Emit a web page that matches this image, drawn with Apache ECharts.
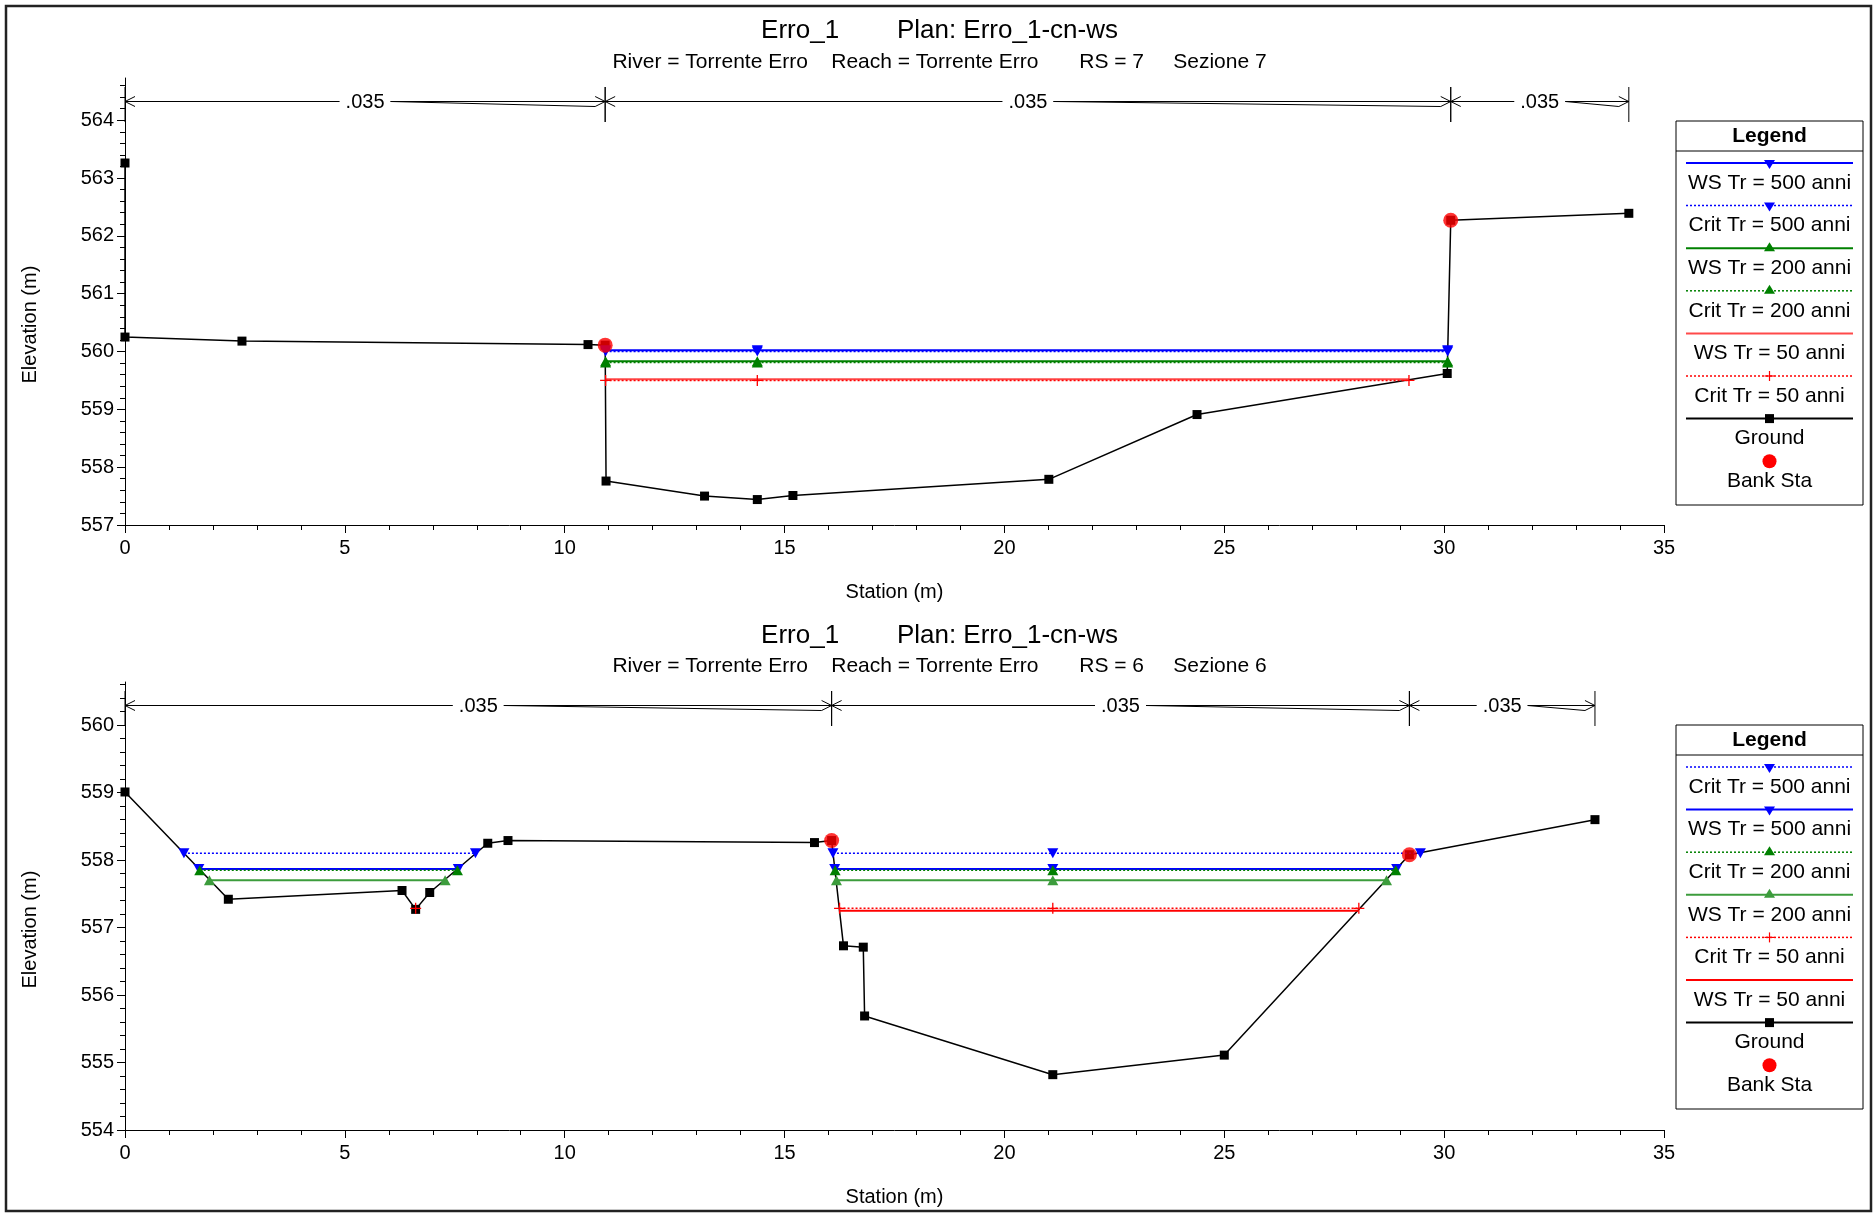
<!DOCTYPE html>
<html>
<head>
<meta charset="utf-8">
<script src="https://cdn.jsdelivr.net/npm/echarts@6/dist/echarts.min.js"></script>
<style>html,body{margin:0;padding:0;background:#fff}#c{width:1874px;height:1214px}</style>
</head>
<body>
<div id="c"></div>
<script>
const FONT = '"Liberation Sans", Arial, sans-serif';

// ---------------- texts ----------------
const titleText = 'Erro_1        Plan: Erro_1-cn-ws';
const rs7Subtitle = 'River = Torrente Erro    Reach = Torrente Erro       RS = 7     Sezione 7';
const rs6Subtitle = 'River = Torrente Erro    Reach = Torrente Erro       RS = 6     Sezione 6';
const xAxisName = 'Station (m)';
const yAxisName = 'Elevation (m)';

// ---------------- tick labels ----------------
const stationTicks = [0, 5, 10, 15, 20, 25, 30, 35];
const rs7ElevTicks = [557, 558, 559, 560, 561, 562, 563, 564];
const rs6ElevTicks = [554, 555, 556, 557, 558, 559, 560];
const rs7ElevRange = [557, 564.73];
const rs6ElevRange = [554, 560.64];

// ---------------- RS 7 (Sezione 7) ----------------
const rs7GroundSta  = [0, 0, 2.66, 10.53, 10.92, 10.94, 13.18, 14.38, 15.19, 21.01, 24.38, 30.07, 30.15, 34.2];
const rs7GroundElev = [563.26, 560.25, 560.18, 560.12, 560.11, 557.76, 557.50, 557.44, 557.51, 557.79, 558.91, 559.62, 562.27, 562.39];
const rs7BankSta  = [10.92, 30.15];
const rs7BankElev = [560.11, 562.27];
const rs7Ws500Sta = [[10.93, 14.38, 30.08]];   const rs7Ws500Elev = 560.02;
const rs7Crit500Sta = [[10.93, 14.38, 30.08]]; const rs7Crit500Elev = 560.00;
const rs7Ws200Sta = [[10.93, 14.38, 30.08]];   const rs7Ws200Elev = 559.83;
const rs7Crit200Sta = [[10.93, 14.38, 30.08]]; const rs7Crit200Elev = 559.81;
const rs7Ws50Sta = [[10.93, 14.38, 29.2]];     const rs7Ws50Elev = 559.52;
const rs7Crit50Sta = [[10.93, 14.38, 29.2]];   const rs7Crit50Elev = 559.50;
const rs7NBounds = [0, 10.92, 30.15, 34.2];
const rs7NValues = ['.035', '.035', '.035'];

// ---------------- RS 6 (Sezione 6) ----------------
const rs6GroundSta  = [0, 2.35, 6.30, 6.61, 6.93, 8.25, 8.71, 15.68, 16.07, 16.34, 16.79, 16.82, 21.1, 25.0, 29.21, 33.43];
const rs6GroundElev = [559.01, 557.42, 557.55, 557.27, 557.52, 558.25, 558.29, 558.26, 558.29, 556.73, 556.71, 555.69, 554.82, 555.11, 558.08, 558.60];
const rs6BankSta  = [16.07, 29.21];
const rs6BankElev = [558.29, 558.08];
const rs6Crit500Sta = [[1.34, 7.97], [16.10, 21.1, 29.46]]; const rs6Crit500Elev = 558.10;
const rs6Ws500Sta = [[1.68, 7.58], [16.14, 21.1, 28.92]];   const rs6Ws500Elev = 557.87;
const rs6Crit200Sta = [[1.70, 7.56], [16.15, 21.1, 28.90]]; const rs6Crit200Elev = 557.85;
const rs6Ws200Sta = [[1.92, 7.28], [16.18, 21.1, 28.69]];   const rs6Ws200Elev = 557.70;
const rs6Crit50Sta = [[6.61], [16.25, 21.1, 28.06]];        const rs6Crit50Elev = 557.285;
const rs6Ws50Sta = [[16.26, 21.1, 28.04]];                  const rs6Ws50Elev = 557.25;
const rs6NBounds = [0, 16.07, 29.21, 33.43];
const rs6NValues = ['.035', '.035', '.035'];

// ---------------- styles ----------------
const PLUS = 'path://M4.4,0h1.2v10h-1.2zM0,4.4h10v1.2h-10z';
const legendLabels = {
  ws500: 'WS Tr = 500 anni', crit500: 'Crit Tr = 500 anni',
  ws200: 'WS Tr = 200 anni', crit200: 'Crit Tr = 200 anni',
  ws50: 'WS Tr = 50 anni', crit50: 'Crit Tr = 50 anni',
  ground: 'Ground', bank: 'Bank Sta'
};
function sty(color, dotted, marker) { return { color, dotted, marker }; }
const rs7Styles = {
  ws500: sty('#0000ff', false, 'down'), crit500: sty('#0000ff', true, 'down'),
  ws200: sty('#008000', false, 'up'),   crit200: sty('#008000', true, 'up'),
  ws50: sty('#ff4a4a', false, 'none'),  crit50: sty('#ff0000', true, 'plus'),
  ground: sty('#000000', false, 'square'), bank: sty('#ff0000', false, 'circle')
};
const rs6Styles = {
  ws500: sty('#0000ff', false, 'down'), crit500: sty('#0000ff', true, 'down'),
  ws200: sty('#3c9c3c', false, 'up'),   crit200: sty('#008000', true, 'up'),
  ws50: sty('#ff0000', false, 'none'),  crit50: sty('#ff0000', true, 'plus'),
  ground: sty('#000000', false, 'square'), bank: sty('#ff0000', false, 'circle')
};
const rs7LegendOrder = ['ws500', 'crit500', 'ws200', 'crit200', 'ws50', 'crit50', 'ground', 'bank'];
const rs6LegendOrder = ['crit500', 'ws500', 'crit200', 'ws200', 'crit50', 'ws50', 'ground', 'bank'];

const sections = [
  {
    subtitle: rs7Subtitle, ticks: rs7ElevTicks, range: rs7ElevRange,
    ground: [rs7GroundSta, rs7GroundElev], bank: [rs7BankSta, rs7BankElev],
    water: [
      ['ws500', rs7Ws500Sta, rs7Ws500Elev], ['crit500', rs7Crit500Sta, rs7Crit500Elev],
      ['ws200', rs7Ws200Sta, rs7Ws200Elev], ['crit200', rs7Crit200Sta, rs7Crit200Elev],
      ['ws50', rs7Ws50Sta, rs7Ws50Elev], ['crit50', rs7Crit50Sta, rs7Crit50Elev]
    ],
    nBounds: rs7NBounds, nValues: rs7NValues, styles: rs7Styles, legend: rs7LegendOrder
  },
  {
    subtitle: rs6Subtitle, ticks: rs6ElevTicks, range: rs6ElevRange,
    ground: [rs6GroundSta, rs6GroundElev], bank: [rs6BankSta, rs6BankElev],
    water: [
      ['crit500', rs6Crit500Sta, rs6Crit500Elev], ['ws500', rs6Ws500Sta, rs6Ws500Elev],
      ['crit200', rs6Crit200Sta, rs6Crit200Elev], ['ws200', rs6Ws200Sta, rs6Ws200Elev],
      ['crit50', rs6Crit50Sta, rs6Crit50Elev], ['ws50', rs6Ws50Sta, rs6Ws50Elev]
    ],
    nBounds: rs6NBounds, nValues: rs6NValues, styles: rs6Styles, legend: rs6LegendOrder
  }
];

// ---------------- layout ----------------
const GRIDS = [
  { left: 125, top: 78, width: 1539, height: 447 },
  { left: 125, top: 682, width: 1539, height: 448 }
];
const TITLE_Y = [31, 636];
const SUB_Y = [62, 666];
const LEGEND_TOP = [121, 725];
const LEGEND_X = 1676, LEGEND_W = 187, LEGEND_H = 384;

function minorTicks(major, max) {
  const out = [];
  major.forEach(t => { for (let k = 1; k < 5; k++) { const v = +(t + 0.2 * k).toFixed(2); if (v < max) out.push(v); } });
  return out;
}
function symbolOf(marker) {
  if (marker === 'down') return { symbol: 'triangle', symbolSize: [11, 10], symbolRotate: 180 };
  if (marker === 'up') return { symbol: 'triangle', symbolSize: [11, 10], symbolRotate: 0 };
  if (marker === 'plus') return { symbol: PLUS, symbolSize: 11, symbolRotate: 0 };
  return { symbol: 'none', symbolSize: 0, symbolRotate: 0 };
}

const xAxes = [], yAxes = [], yMinorAxes = [], series = [];
sections.forEach((s, g) => {
  xAxes.push({
    gridIndex: g, type: 'value', min: 0, max: 35, interval: 5,
    axisLine: { show: true, onZero: false, lineStyle: { color: '#000', width: 1 } },
    axisTick: { show: true, inside: false, length: 8, lineStyle: { color: '#000' } },
    minorTick: { show: true, splitNumber: 5, length: 5, lineStyle: { color: '#000' } },
    axisLabel: { color: '#000', fontSize: 20, fontFamily: FONT, margin: 13 },
    splitLine: { show: false }, minorSplitLine: { show: false }
  });
  yAxes.push({
    gridIndex: g, type: 'value', min: s.range[0], max: s.range[1], position: 'left',
    axisLine: { show: true, onZero: false, lineStyle: { color: '#000', width: 1 } },
    axisTick: { show: true, inside: false, length: 8, customValues: s.ticks, lineStyle: { color: '#000' } },
    axisLabel: { customValues: s.ticks, color: '#000', fontSize: 20, fontFamily: FONT, margin: 11, padding: [3, 0, 0, 0] },
    splitLine: { show: false }
  });
  yMinorAxes.push({
    gridIndex: g, type: 'value', min: s.range[0], max: s.range[1], position: 'left', offset: 0,
    axisLine: { show: false },
    axisTick: { show: true, inside: false, length: 5, customValues: minorTicks(s.ticks, s.range[1]), lineStyle: { color: '#000' } },
    axisLabel: { show: false }, splitLine: { show: false }
  });

  // Manning's n brackets
  series.push({
    type: 'custom', xAxisIndex: g, yAxisIndex: g, clip: false, silent: true, z: 2,
    data: s.nValues.map((v, i) => [s.nBounds[i], s.nBounds[i + 1], s.range[1]]),
    encode: { x: [0, 1], y: 2 },
    renderItem: function (params, api) {
      const cs = params.coordSys;
      const x0 = api.coord([api.value(0), api.value(2)])[0];
      const x1 = api.coord([api.value(1), api.value(2)])[0];
      const yb = cs.y + 23.5, yt = cs.y + 9, ybot = cs.y + 44;
      const xm = (x0 + x1) / 2, hg = 25.5;
      const st = { stroke: '#000', lineWidth: 1, fill: null };
      return {
        type: 'group',
        children: [
          { type: 'line', shape: { x1: x0, y1: yt, x2: x0, y2: ybot }, style: st },
          { type: 'line', shape: { x1: x1, y1: yt, x2: x1, y2: ybot }, style: st },
          { type: 'line', shape: { x1: x0, y1: yb, x2: xm - hg, y2: yb }, style: st },
          { type: 'line', shape: { x1: xm + hg, y1: yb, x2: x1, y2: yb }, style: st },
          { type: 'line', shape: { x1: xm + hg, y1: yb, x2: x1 - 10, y2: yb + 5 }, style: st },
          { type: 'polyline', shape: { points: [[x0 + 10, yb - 5], [x0, yb], [x0 + 10, yb + 5]] }, style: st },
          { type: 'polyline', shape: { points: [[x1 - 10, yb - 5], [x1, yb], [x1 - 10, yb + 5]] }, style: st },
          { type: 'text', style: { text: s.nValues[params.dataIndex], x: xm, y: yb + 1, align: 'center', verticalAlign: 'middle', font: '20px ' + FONT, fill: '#000' } }
        ]
      };
    }
  });

  // ground
  series.push({
    type: 'line', xAxisIndex: g, yAxisIndex: g, clip: false, silent: true, z: 3,
    data: s.ground[0].map((x, i) => [x, s.ground[1][i]]),
    symbol: 'rect', symbolSize: 9, showSymbol: true,
    lineStyle: { color: '#000', width: 1.5 }, itemStyle: { color: '#000' }
  });

  // water surfaces
  s.water.forEach(([key, segs, elev]) => {
    const st = s.styles[key];
    const data = [];
    segs.forEach((seg, i) => {
      if (i > 0) data.push(['-', '-']);
      seg.forEach(x => data.push([x, elev]));
    });
    const sym = symbolOf(st.marker);
    series.push({
      type: 'line', xAxisIndex: g, yAxisIndex: g, clip: false, silent: true, z: 4,
      data, connectNulls: false, showSymbol: sym.symbol !== 'none',
      symbol: sym.symbol, symbolSize: sym.symbolSize, symbolRotate: sym.symbolRotate,
      lineStyle: { color: st.color, width: st.dotted ? 1.5 : 2, type: st.dotted ? [2, 2] : 'solid' },
      itemStyle: { color: st.color }
    });
  });

  // bank stations
  series.push({
    type: 'scatter', xAxisIndex: g, yAxisIndex: g, clip: false, silent: true, z: 6,
    data: s.bank[0].map((x, i) => [x, s.bank[1][i]]),
    symbol: 'circle', symbolSize: 15, itemStyle: { color: '#ff0000' }
  });
});

const chart = echarts.init(document.getElementById('c'), null, { renderer: 'canvas', width: 1874, height: 1214 });
chart.setOption({
  backgroundColor: '#ffffff',
  animation: false,
  grid: GRIDS,
  xAxis: xAxes,
  yAxis: yAxes.concat(yMinorAxes),
  series
});

// ---------------- decorations (titles, axis names, legends, frame) ----------------
function txt(text, x, y, size, opts) {
  opts = opts || {};
  return {
    type: 'text', silent: true, z: 20, rotation: opts.rotation || 0, x: x, y: y,
    style: {
      text, x: 0, y: 0, fill: '#000',
      font: (opts.bold ? 'bold ' : '') + size + 'px ' + FONT,
      align: 'center', verticalAlign: 'middle', textAlign: 'center', textVerticalAlign: 'middle'
    }
  };
}
const graphics = [];
graphics.push({ type: 'rect', silent: true, z: 30, shape: { x: 6, y: 6, width: 1865, height: 1205 }, style: { fill: null, stroke: '#222', lineWidth: 2.5 } });

sections.forEach((s, g) => {
  const cx = GRIDS[g].left + GRIDS[g].width / 2;
  graphics.push(txt(titleText, cx + 45, TITLE_Y[g], 26));
  graphics.push(txt(s.subtitle, cx + 45, SUB_Y[g], 21));
  const midElev = (s.ticks[0] + s.ticks[s.ticks.length - 1]) / 2;
  const pMid = chart.convertToPixel({ gridIndex: g }, [17.5, midElev]);
  const pBase = chart.convertToPixel({ gridIndex: g }, [17.5, s.range[0]]);
  graphics.push(txt(yAxisName, 30, pMid[1] + 2, 20, { rotation: Math.PI / 2 }));
  graphics.push(txt(xAxisName, pMid[0], pBase[1] + 67, 20));

  // legend box
  const top = LEGEND_TOP[g];
  const lx0 = LEGEND_X + 10, lx1 = LEGEND_X + LEGEND_W - 10, lcx = LEGEND_X + LEGEND_W / 2;
  graphics.push({ type: 'rect', silent: true, z: 20, shape: { x: LEGEND_X, y: top, width: LEGEND_W, height: LEGEND_H }, style: { fill: '#fff', stroke: '#000', lineWidth: 1 } });
  graphics.push({ type: 'line', silent: true, z: 21, shape: { x1: LEGEND_X, y1: top + 30, x2: LEGEND_X + LEGEND_W, y2: top + 30 }, style: { stroke: '#000', lineWidth: 1 } });
  graphics.push(txt('Legend', lcx, top + 15, 21, { bold: true }));
  s.legend.forEach((key, i) => {
    const st = s.styles[key];
    const ly = top + 42 + 42.6 * i;
    if (key !== 'bank') {
      graphics.push({ type: 'line', silent: true, z: 21, shape: { x1: lx0, y1: ly, x2: lx1, y2: ly },
        style: { stroke: st.color, lineWidth: st.dotted ? 1.5 : 2, lineDash: st.dotted ? [2, 2] : null } });
    }
    if (st.marker === 'down') graphics.push({ type: 'polygon', silent: true, z: 22, shape: { points: [[lcx - 5.5, ly - 3], [lcx + 5.5, ly - 3], [lcx, ly + 6]] }, style: { fill: st.color } });
    if (st.marker === 'up') graphics.push({ type: 'polygon', silent: true, z: 22, shape: { points: [[lcx - 5.5, ly + 3], [lcx + 5.5, ly + 3], [lcx, ly - 6]] }, style: { fill: st.color } });
    if (st.marker === 'plus') {
      graphics.push({ type: 'line', silent: true, z: 22, shape: { x1: lcx - 5, y1: ly, x2: lcx + 5, y2: ly }, style: { stroke: st.color, lineWidth: 1.2 } });
      graphics.push({ type: 'line', silent: true, z: 22, shape: { x1: lcx, y1: ly - 5, x2: lcx, y2: ly + 5 }, style: { stroke: st.color, lineWidth: 1.2 } });
    }
    if (st.marker === 'square') graphics.push({ type: 'rect', silent: true, z: 22, shape: { x: lcx - 4.5, y: ly - 4.5, width: 9, height: 9 }, style: { fill: st.color } });
    if (st.marker === 'circle') graphics.push({ type: 'circle', silent: true, z: 22, shape: { cx: lcx, cy: ly, r: 7 }, style: { fill: st.color } });
    graphics.push(txt(legendLabels[key], lcx, ly + 20, 21));
  });
});
chart.setOption({ graphic: graphics });
</script>
</body>
</html>
